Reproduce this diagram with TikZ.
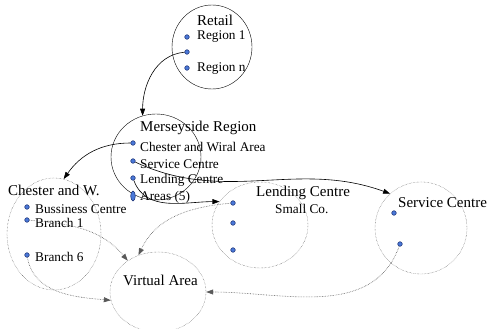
\documentclass[tikz,border=0pt]{standalone}
\usepackage{fontspec}
\setmainfont{Liberation Serif}
\usetikzlibrary{shapes.geometric,arrows.meta}
\definecolor{dotfill}{HTML}{4A78D8}
\definecolor{dotline}{HTML}{1A2E70}
\begin{document}
\begin{tikzpicture}[x=1pt,y=-1pt,
  area/.style={draw,ellipse,inner sep=0pt},
  dotarea/.style={area,draw=black!75,densely dotted},
  big/.style={font=\fontsize{15}{17}\selectfont,inner sep=0pt,anchor=west},
  small/.style={font=\fontsize{13.3}{15}\selectfont,inner sep=0pt,anchor=west},
  dot/.style={circle,draw=dotline,fill=dotfill,inner sep=0pt,minimum size=4.6pt,line width=0.5pt},
  link/.style={-{Triangle[length=7pt,width=5pt]},line width=0.6pt},
  vlink/.style={link,draw=black!65,densely dotted}]
\useasboundingbox (0,0) rectangle (487,329);
% areas
\node[area,minimum width=80pt,minimum height=84pt] (retail) at (212,47) {};
\node[area,minimum width=90pt,minimum height=86pt] (mers) at (156,157) {};
\node[dotarea,minimum width=94pt,minimum height=112pt] (chest) at (54,234) {};
\node[dotarea,minimum width=96pt,minimum height=86pt] (lend) at (260,225) {};
\node[dotarea,minimum width=92pt,minimum height=92pt] (serv) at (421,228) {};
\node[dotarea,minimum width=96pt,minimum height=80pt] (virt) at (158,292) {};
% labels
\node[big] (tretail) at (197,20) {Retail};
\node[small] (tr1) at (197,37) {Region 1};
\node[small] (trn) at (197,69) {Region n};
\node[big] (tmers) at (140,128) {Merseyside Region};
\foreach \n/\y/\t in {cw/147/Chester and Wiral Area,sc/164/Service Centre,lc/180/Lending Centre,ar/197/Areas (5)}
  \node[small] (tm\n) at (140,\y) {\t};
\node[big] (tchest) at (8,190) {Chester and W.};
\foreach \n/\y/\t in {bc/209/Bussiness Centre,b1/223/Branch 1,b6/257/Branch 6}
  \node[small] (tc\n) at (35,\y) {\t};
\node[big] (tlend) at (256,193) {Lending Centre};
\node[small] (tsmall) at (275,209) {Small Co.};
\node[big] (tserv) at (398,203) {Service Centre};
\node[big] (tvirt) at (123,280) {Virtual Area};
% bullets
\foreach \n/\y in {1/37,2/52,3/68} \node[dot] (r\n) at (187,\y) {};
\foreach \n/\y in {cw/143,sc/161,lc/178} \node[dot] (m\n) at (133,\y) {};
\foreach \n/\y in {bc/207,b1/220,b6/255} \node[dot] (c\n) at (27,\y) {};
\foreach \n/\y in {1/203,2/223,3/250} \node[dot] (l\n) at (233,\y) {};
\node[dot] (s1) at (394,213) {};
\node[dot] (s2) at (400,244) {};
% links
\draw[link] (r2) to[out=185,in=90] (mers.108);
\draw[link] (mcw) to[out=180,in=55] (chest.80);
\draw[link] (msc) to[out=-25,in=160] (serv.132);
\draw[link] (mlc) to[out=-70,in=180] (lend.150);
\draw[vlink] (cb1) to[out=-5,in=130] (virt.134);
\draw[vlink] (cb6) to[out=-80,in=175] (virt.190);
\draw[vlink] (l1) to[out=185,in=65] (virt.118);
\draw[vlink] (s2) to[out=-110,in=0] (virt.east);
\node[dot,ellipse,minimum height=10pt] (mar) at (133,196) {};
\end{tikzpicture}
\end{document}
